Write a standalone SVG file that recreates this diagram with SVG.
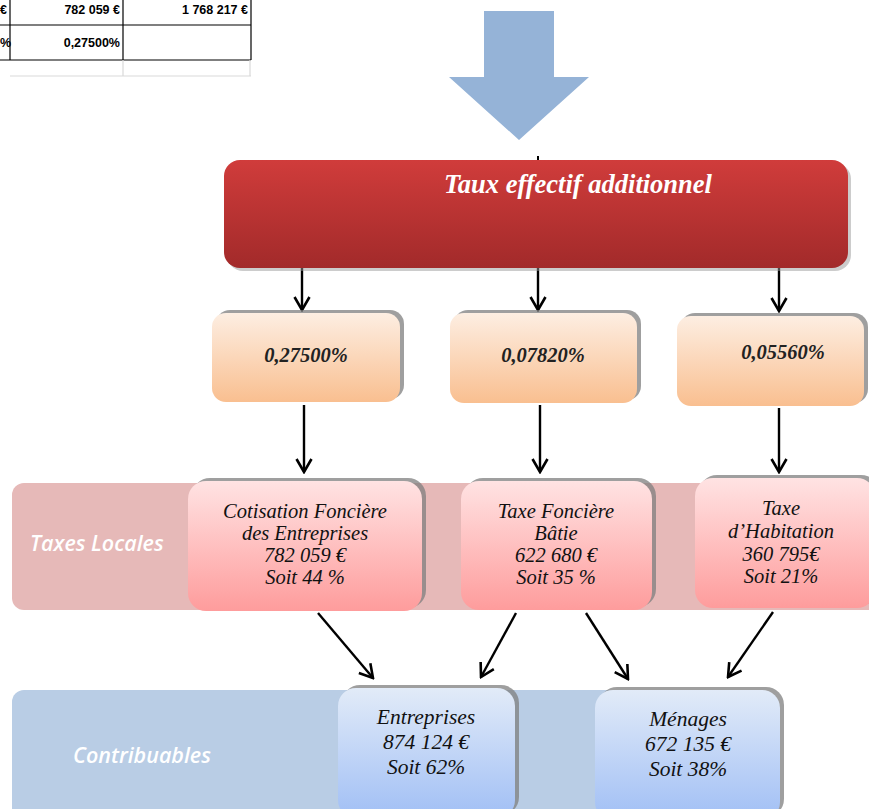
<svg xmlns="http://www.w3.org/2000/svg" width="869" height="809" viewBox="0 0 869 809">
<defs>
<linearGradient id="gRed" x1="0" y1="0" x2="0" y2="1"><stop offset="0" stop-color="#d03c3b"/><stop offset="1" stop-color="#a22a2a"/></linearGradient>
<linearGradient id="gOr" x1="0" y1="0" x2="0" y2="1"><stop offset="0" stop-color="#fdeee2"/><stop offset="1" stop-color="#f9bf90"/></linearGradient>
<linearGradient id="gPk" x1="0" y1="0" x2="0" y2="1"><stop offset="0" stop-color="#ffe3e3"/><stop offset="1" stop-color="#fe9c9c"/></linearGradient>
<linearGradient id="gBl" x1="0" y1="0" x2="0" y2="1"><stop offset="0" stop-color="#e2ebf8"/><stop offset="1" stop-color="#a1bff5"/></linearGradient>
<marker id="ah" viewBox="0 0 16 18" refX="14" refY="9" markerWidth="16" markerHeight="18" markerUnits="userSpaceOnUse" orient="auto"><path d="M1,1.5 L14,9 L1,16.5" fill="none" stroke="#000" stroke-width="2.6"/></marker>
</defs>
<style>
.tbl{fill:none;stroke:#000;stroke-width:1.2}
.tl{fill:none;stroke:#d9d9d9;stroke-width:1.2}
.tt{font-family:"Liberation Sans",sans-serif;font-weight:bold;font-size:12.5px;fill:#000}
.sh{fill:#7f7f7f;opacity:0.75}
.bt{font-family:"Liberation Serif",serif;font-style:italic;font-size:20.5px;fill:#111;text-anchor:middle}
.be{font-family:"Liberation Serif",serif;font-style:italic;font-size:21.5px;fill:#111;text-anchor:middle}
.pt{font-family:"Liberation Serif",serif;font-style:italic;font-weight:bold;font-size:20.5px;fill:#222;text-anchor:middle}
.band{font-family:"Open Sans","DejaVu Sans",sans-serif;font-style:italic;font-weight:600;font-size:21.5px;fill:#fff}
.c{fill:none;stroke:#000;stroke-width:2.4;marker-end:url(#ah)}
</style>
<g id="table">
<line class="tbl" x1="0" y1="25" x2="251" y2="25"/>
<line class="tbl" x1="0" y1="60" x2="251" y2="60"/>
<line class="tbl" x1="10" y1="0" x2="10" y2="60"/>
<line class="tbl" x1="123" y1="0" x2="123" y2="60"/>
<line class="tbl" x1="251" y1="0" x2="251" y2="60"/>
<line class="tl" x1="10" y1="76" x2="251" y2="76"/>
<line class="tl" x1="123" y1="60" x2="123" y2="76"/>
<line class="tl" x1="250" y1="60" x2="250" y2="76"/>
<text class="tt" x="0" y="14">€</text>
<text class="tt" x="120" y="14" text-anchor="end">782 059 €</text>
<text class="tt" x="248" y="14" text-anchor="end">1 768 217 €</text>
<text class="tt" x="0" y="47">%</text>
<text class="tt" x="120" y="47" text-anchor="end">0,27500%</text>
</g>
<g id="bigArrow"><polygon points="484,11 554,11 554,77 589,77 519,140 449,77 484,77" fill="#95b3d7"/></g>
<g id="bandTaxes"><rect x="12" y="483" width="870" height="127" rx="12" fill="#e6b9b8"/><text class="band" x="30" y="551">Taxes Locales</text></g>
<g id="bandContrib"><rect x="12" y="690" width="610" height="130" rx="12" fill="#b9cde5"/><text class="band" x="73" y="763">Contribuables</text></g>
<g id="connectors">
<line x1="538" y1="156" x2="538" y2="162" stroke="#000" stroke-width="2"/>
<line class="c" x1="302" y1="268" x2="302" y2="310"/>
<line class="c" x1="538" y1="268" x2="538" y2="310"/>
<line class="c" x1="779" y1="268" x2="779" y2="311"/>
<line class="c" x1="304" y1="405" x2="304" y2="472"/>
<line class="c" x1="540" y1="405" x2="540" y2="472"/>
<line class="c" x1="779" y1="408" x2="779" y2="472"/>
<line class="c" x1="318" y1="613" x2="373" y2="678"/>
<line class="c" x1="516" y1="613" x2="481" y2="677"/>
<line class="c" x1="586" y1="613" x2="628" y2="679"/>
<line class="c" x1="773" y1="612" x2="728" y2="677"/>
</g>
<g id="taux">
<rect x="227" y="163" width="624" height="108" rx="16" fill="#999" opacity="0.5"/>
<rect x="224" y="160" width="624" height="108" rx="16" fill="url(#gRed)"/>
<text x="578" y="193" font-family="Liberation Serif,serif" font-style="italic" font-weight="bold" font-size="26.5" fill="#fff" text-anchor="middle">Taux effectif additionnel</text>
</g>
<g id="t1"><rect class="sh" x="216" y="310" width="188" height="89" rx="14"/><rect x="212" y="313" width="188" height="89" rx="14" fill="url(#gOr)"/><text class="pt" x="306" y="362">0,27500%</text></g>
<g id="t2"><rect class="sh" x="454" y="310" width="187" height="90" rx="14"/><rect x="450" y="313" width="187" height="90" rx="14" fill="url(#gOr)"/><text class="pt" x="543" y="362">0,07820%</text></g>
<g id="t3"><rect class="sh" x="681" y="313" width="187" height="90" rx="14"/><rect x="677" y="316" width="187" height="90" rx="14" fill="url(#gOr)"/><text class="pt" x="783" y="359">0,05560%</text></g>
<g id="cfe"><rect class="sh" x="192" y="478" width="234" height="130" rx="18"/><rect x="188" y="481" width="234" height="130" rx="18" fill="url(#gPk)"/>
<text class="bt" x="305" y="518">Cotisation Foncière</text><text class="bt" x="305" y="540">des Entreprises</text><text class="bt" x="305" y="562">782 059 €</text><text class="bt" x="305" y="584">Soit 44 %</text></g>
<g id="tfb"><rect class="sh" x="465" y="478" width="191" height="129" rx="18"/><rect x="461" y="481" width="191" height="129" rx="18" fill="url(#gPk)"/>
<text class="bt" x="556" y="518">Taxe Foncière</text><text class="bt" x="556" y="540">Bâtie</text><text class="bt" x="556" y="562">622 680 €</text><text class="bt" x="556" y="584">Soit 35 %</text></g>
<g id="th"><rect class="sh" x="699" y="475" width="180" height="130" rx="18"/><rect x="695" y="478" width="180" height="130" rx="18" fill="url(#gPk)"/>
<text class="bt" x="781" y="515">Taxe</text><text class="bt" x="781" y="538">d’Habitation</text><text class="bt" x="781" y="561">360 795€</text><text class="bt" x="781" y="583">Soit 21%</text></g>
<g id="ent"><rect class="sh" x="342" y="685" width="177" height="130" rx="18"/><rect x="338" y="688" width="177" height="130" rx="18" fill="url(#gBl)"/>
<text class="be" x="426" y="724">Entreprises</text><text class="be" x="426" y="749">874 124 €</text><text class="be" x="426" y="774">Soit 62%</text></g>
<g id="men"><rect class="sh" x="599" y="687" width="185" height="130" rx="18"/><rect x="595" y="690" width="185" height="130" rx="18" fill="url(#gBl)"/>
<text class="be" x="688" y="726">Ménages</text><text class="be" x="688" y="751">672 135 €</text><text class="be" x="688" y="776">Soit 38%</text></g>
</svg>
